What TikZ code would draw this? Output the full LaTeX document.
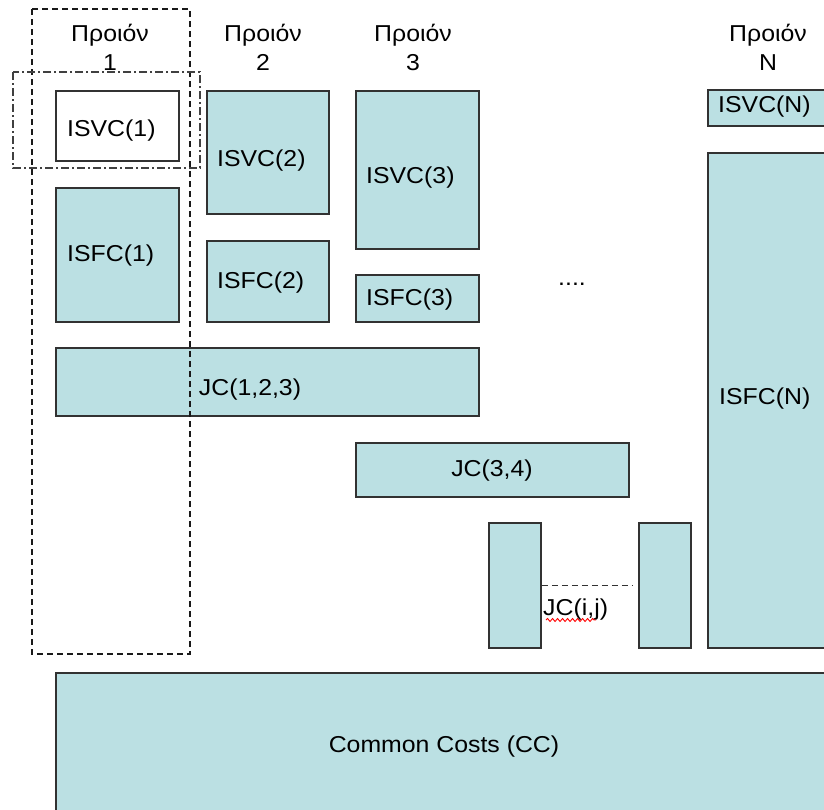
\documentclass[tikz,border=0pt]{standalone}
\usepackage{fontspec}
\setmainfont{Liberation Sans}[FakeStretch=1.08]
\usetikzlibrary{decorations.pathmorphing}

\definecolor{costfill}{RGB}{187,224,227}
\definecolor{costline}{RGB}{50,50,50}

\tikzset{
  boxsize/.style 2 args={minimum width=#1pt,minimum height=#2pt},
  costbox/.style={draw=costline,fill=costfill,line width=1.8pt,inner sep=0pt,anchor=north west},
  costtext/.style={inner sep=0pt,font=\fontsize{23}{29}\selectfont},
  prodtext/.style={inner sep=0pt,align=center,font=\fontsize{23}{29}\selectfont},
  prodframe/.style={black!90,line width=1.6pt,dash pattern=on 6pt off 4pt},
  varframe/.style={black!75,line width=1.4pt,dash pattern=on 8pt off 3pt on 2pt off 3pt}
}

\begin{document}
\begin{tikzpicture}[x=1pt,y=-1pt]
\clip (0,0) rectangle (824,809);
\fill[white] (0,0) rectangle (824,809);
% Product headings
\node[prodtext] (prod1) at (110,47) {Προιόν\\1};
\node[prodtext] (prod2) at (263,47) {Προιόν\\2};
\node[prodtext] (prod3) at (413,47) {Προιόν\\3};
\node[prodtext] (prodN) at (768,47) {Προιόν\\N};
% Stand-alone cost boxes
\node[costbox,fill=white,boxsize={123}{70}] (isvc1) at (55,90) {};
\node[costbox,boxsize={123}{134}] (isfc1) at (55,187) {};
\node[costbox,boxsize={122}{123}] (isvc2) at (206,90) {};
\node[costbox,boxsize={122}{81}] (isfc2) at (206,240) {};
\node[costbox,boxsize={123}{158}] (isvc3) at (355,90) {};
\node[costbox,boxsize={123}{47}] (isfc3) at (355,274) {};
\node[costbox,boxsize={140}{36}] (isvcN) at (707,89) {};
\node[costbox,boxsize={140}{495}] (isfcN) at (707,152) {};
% Joint cost boxes
\node[costbox,boxsize={423}{68}] (jc123) at (55,347) {};
\node[costbox,boxsize={273}{54}] (jc34) at (355,442) {};
\node[costbox,boxsize={52}{125}] (jci) at (488,522) {};
\node[costbox,boxsize={52}{125}] (jcj) at (638,522) {};
\node[costbox,boxsize={800}{160}] (cc) at (55,672) {};
% Link between i and j
\draw[costline,line width=1.6pt,dash pattern=on 6pt off 4pt] (jci.east) -- ([xshift=-5pt]jcj.west);
% Box labels
\node[costtext,anchor=west] (isvc1l) at (67,131) {ISVC(1)};
\node[costtext,anchor=west] (isfc1l) at (67,256) {ISFC(1)};
\node[costtext,anchor=west] (isvc2l) at (217,161) {ISVC(2)};
\node[costtext,anchor=west] (isfc2l) at (217,283) {ISFC(2)};
\node[costtext,anchor=west] (isvc3l) at (366,178) {ISVC(3)};
\node[costtext,anchor=west] (isfc3l) at (366,300) {ISFC(3)};
\node[costtext,anchor=west] (isvcNl) at (718,107) {ISVC(N)};
\node[costtext,anchor=west] (isfcNl) at (719,399) {ISFC(N)};
\node[costtext] (jc123l) at (250,390) {JC(1,2,3)};
\node[costtext] (jc34l) at (492,471) {JC(3,4)};
\node[costtext,anchor=west] (jcijl) at (543,610) {JC(i,j)};
\node[costtext] (ccl) at (444,747) {Common Costs (CC)};
\node[costtext,anchor=base] (dots) at (572,285) {....};
% Spelling squiggle
\draw[red,line width=0.9pt,decorate,decoration={snake,amplitude=1.5pt,segment length=5pt}] (546,620) -- (596,620);
% Product 1 frames
\draw[prodframe] (32,9) rectangle (190,654);
\draw[varframe] (13,72) rectangle (200,168);
\end{tikzpicture}
\end{document}
